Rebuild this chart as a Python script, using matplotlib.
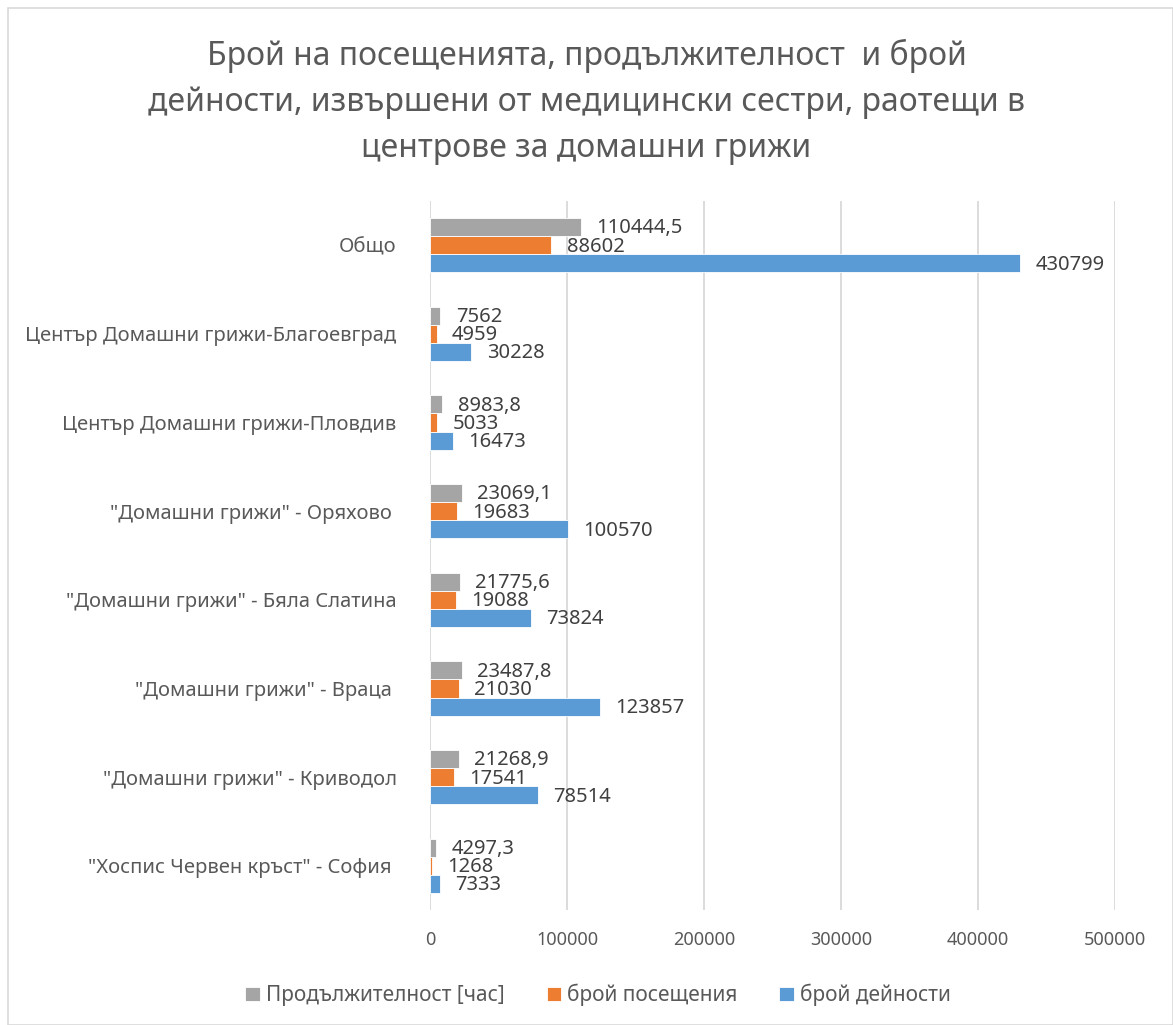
#!/usr/bin/env python3
"""Horizontal grouped bars: home-care nurse visits, hours and activities."""

import matplotlib
matplotlib.use("Agg")
import matplotlib.pyplot as plt
from matplotlib.patches import Rectangle
import numpy as np

plt.rcParams['font.family'] = ['Noto Sans', 'DejaVu Sans']

# bottom to top, as they are drawn
categories = [
    '"Хоспис Червен кръст" - София ',
    '"Домашни грижи" - Криводол',
    '"Домашни грижи" - Враца ',
    '"Домашни грижи" - Бяла Слатина',
    '"Домашни грижи" - Оряхово ',
    'Център Домашни грижи-Пловдив',
    'Център Домашни грижи-Благоевград',
    'Общо',
]
activities = [7333, 78514, 123857, 73824, 100570, 16473, 30228, 430799]
visits = [1268, 17541, 21030, 19088, 19683, 5033, 4959, 88602]
hours = [4297.3, 21268.9, 23487.8, 21775.6, 23069.1, 8983.8, 7562, 110444.5]
x_ticks = [0, 100000, 200000, 300000, 400000, 500000]

title = ('Брой на посещенията, продължителност  и брой\n'
         'дейности, извършени от медицински сестри, раотещи в\n'
         'центрове за домашни грижи')

TEXT = '#595959'
GRID = '#D9D9D9'


def fmt(v):
    s = f"{v:.1f}".rstrip('0').rstrip('.')
    return s.replace('.', ',')


fig = plt.figure(figsize=(11.73, 10.25), dpi=100)
ax = fig.add_axes([0.3666, 0.112, 0.584, 0.692])

y = np.arange(len(categories))
h = 0.205
series = [
    (activities, 'брой дейности', '#5B9BD5', -h),
    (visits, 'брой посещения', '#ED7D31', 0),
    (hours, 'Продължителност [час]', '#A5A5A5', h),
]
handles = []
for vals, name, color, off in series:
    bars = ax.barh(y + off, vals, height=h, color=color, label=name,
                   edgecolor='white', linewidth=0.6, zorder=3)
    handles.append(bars)
    for yy, v in zip(y + off, vals):
        ax.annotate(fmt(v), (v, yy), xytext=(11, -1), textcoords='offset points',
                    ha='left', va='center', fontsize=14.5, color='#404040', zorder=4)

ax.set_xlim(0, 500000)
ax.set_ylim(-0.5, len(categories) - 0.5)
ax.set_xticks(x_ticks)
ax.set_xticklabels([str(t) for t in x_ticks], fontsize=13, color=TEXT)
ax.set_yticks(y)
ax.set_yticklabels(categories, fontsize=14.5, color=TEXT)
ax.tick_params(axis='both', length=0)
ax.tick_params(axis='x', pad=15)
ax.tick_params(axis='y', pad=24)
ax.grid(axis='x', color=GRID, linewidth=1.3, zorder=0)
for side in ['top', 'right', 'bottom', 'left']:
    ax.spines[side].set_visible(False)

fig.text(0.5, 0.962, title, ha='center', va='top', fontsize=23, color=TEXT,
         linespacing=1.52)

leg = fig.legend(handles[::-1], [s[1] for s in series][::-1], loc='center',
                 bbox_to_anchor=(0.51, 0.029), ncol=3, frameon=False, fontsize=15,
                 handlelength=0.7, handleheight=0.7, handletextpad=0.3,
                 columnspacing=2.0)
for t in leg.get_texts():
    t.set_color(TEXT)

fig.patches.append(Rectangle((0.007, 0.0), 0.993, 0.992, transform=fig.transFigure,
                             fill=False, edgecolor=GRID, linewidth=1.2))

fig.savefig('out.png', dpi=100)
